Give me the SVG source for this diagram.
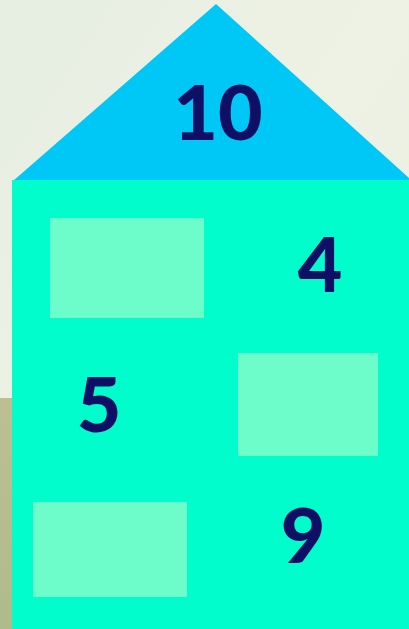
<svg xmlns="http://www.w3.org/2000/svg" width="409" height="629" viewBox="0 0 409 629">
<defs>
<linearGradient id="bg" x1="0" y1="0" x2="1" y2="1">
<stop offset="0" stop-color="#E6EEE2"/>
<stop offset="0.5" stop-color="#EEF2E4"/>
<stop offset="1" stop-color="#E8ECDC"/>
</linearGradient>
<linearGradient id="ol" x1="0" y1="0" x2="0" y2="1">
<stop offset="0" stop-color="#BDBF92"/>
<stop offset="1" stop-color="#AFBB8A"/>
</linearGradient>
</defs>
<style>
.num{font-family:"Comic Sans MS",Lato,"DejaVu Sans",sans-serif;font-weight:900;font-size:77px;fill:#0F0F66;text-anchor:middle}
.box{fill:#6DFDCB}
</style>
<rect x="0" y="0" width="409" height="629" fill="url(#bg)"/>
<rect x="0" y="398" width="12" height="231" fill="url(#ol)"/>
<g id="roof">
<polygon points="13,181 216,4 409,178 409,181" fill="#00C8F6"/>
<text class="num" x="218" y="140">10</text>
</g>
<g id="body">
<rect x="12" y="180" width="397" height="449" fill="#00FDCB"/>
</g>
<g id="box1"><rect class="box" x="50" y="218" width="154" height="100"/></g>
<g id="n4"><text class="num" x="320" y="292">4</text></g>
<g id="n5"><text class="num" x="99" y="432">5</text></g>
<g id="box2"><rect class="box" x="238" y="353" width="140" height="103"/></g>
<g id="box3"><rect class="box" x="33" y="502" width="154" height="95"/></g>
<g id="n9"><text class="num" x="303" y="563">9</text></g>
<g id="connectors"></g>
</svg>
